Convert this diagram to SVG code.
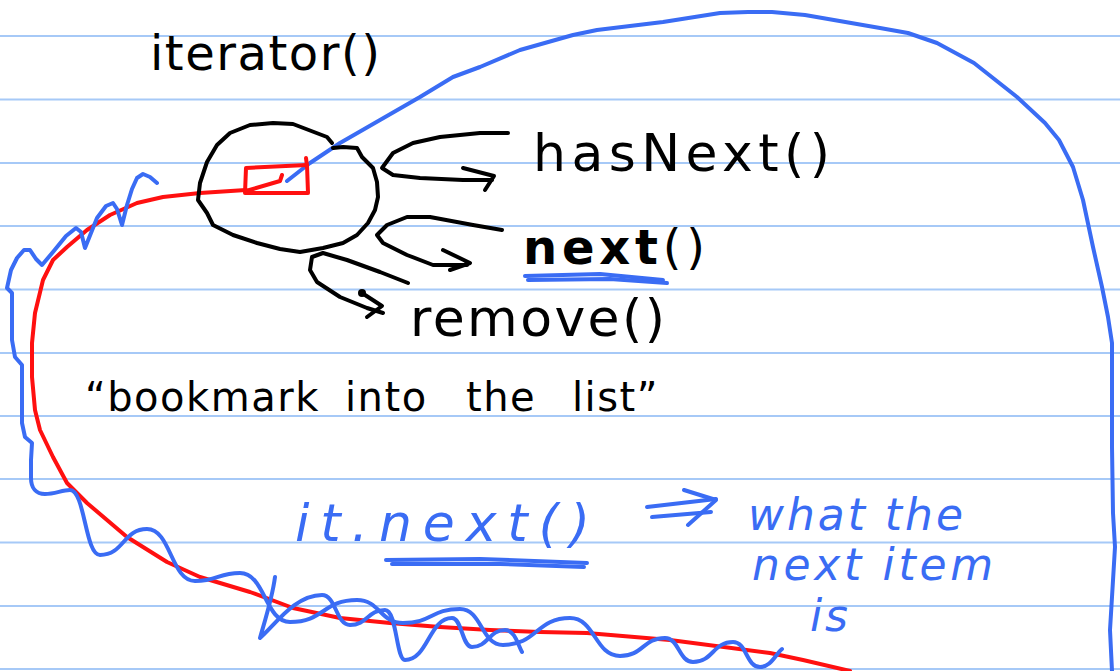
<svg xmlns="http://www.w3.org/2000/svg" width="1120" height="671" viewBox="0 0 1120 671">
  <style>
    .rule { stroke: #a6c9f7; stroke-width: 2; }
    .ink { fill: none; stroke-linecap: round; stroke-linejoin: round; }
    .black { stroke: #000; stroke-width: 4; }
    .blue { stroke: #3a6cf4; stroke-width: 4; }
    .red { stroke: #ff1010; stroke-width: 4; }
    .txt { font-family: "DejaVu Sans", "Liberation Sans", sans-serif; fill: #000; }
    .btxt { font-family: "DejaVu Sans", "Liberation Sans", sans-serif; fill: #3a6cf4; font-style: italic; }
  </style>

  <!-- ruled notebook paper -->
  <rect x="0" y="0" width="1120" height="671" fill="#fff"/>
  <g id="paper-lines">
    <line class="rule" x1="0" y1="36" x2="1120" y2="36"/>
    <line class="rule" x1="0" y1="99.5" x2="1120" y2="99.5"/>
    <line class="rule" x1="0" y1="163" x2="1120" y2="163"/>
    <line class="rule" x1="0" y1="226" x2="1120" y2="226"/>
    <line class="rule" x1="0" y1="289.5" x2="1120" y2="289.5"/>
    <line class="rule" x1="0" y1="353" x2="1120" y2="353"/>
    <line class="rule" x1="0" y1="416" x2="1120" y2="416"/>
    <line class="rule" x1="0" y1="479" x2="1120" y2="479"/>
    <line class="rule" x1="0" y1="542.5" x2="1120" y2="542.5"/>
    <line class="rule" x1="0" y1="606" x2="1120" y2="606"/>
    <line class="rule" x1="0" y1="669" x2="1120" y2="669"/>
  </g>

  <!-- list traced in red, running out of the bookmark -->
  <g id="list-curve">
    <path class="ink red" d="M246,190 L200,193 L163,197 L137,203 L110,215 L87,230 L67,247 L53,260 L43,280 L35,313 L32,343 L32,377 L35,410 L40,430 L53,457 L67,483 L87,503 L127,537 L167,562 L200,577 L250,592 L293,608 L340,618 L390,623 L440,627 L490,630 L540,632 L587,633 L670,640 L770,653 L803,660 L850,671"/>
  </g>

  <!-- wavy blue trace following the list -->
  <g id="wave-trace">
    <path class="ink blue" d="M157,183 L150,177 L143,174 L137,178 L132,189 L127,205 L122,225 L117,209 L113,203 L106,206 L97,218 L85,248 L81,232 L76,228 L66,236 L53,252 L42,265 L36,259 L30,250 L24,250 L17,258 L11,270 L7,288 L12,293 L12,340 L15,357 L22,365 L22,423 L25,437 L32,443 L31,460 L31,478 C31,488 36,494 45,494 C55,494 62,490 70,490 C85,490 85,555 100,555 C124,555 123,529 147,529 C171,529 171,581 195,581 C218,581 218,573 240,573 C265,573 265,622 290,622 C324,622 323,600 357,600 C380,600 380,623 403,623 C432,623 431,609 460,609 C482,609 481,645 503,645 C537,645 536,618 570,618 C595,618 595,656 620,656 C643,656 643,638 665,638 C679,638 679,662 693,662 C713,662 713,642 733,642 C747,642 746,667 760,667 C771,667 775,655 782,649"/>
    <path class="ink blue" d="M275,577 C272,600 262,630 260,638 C275,625 295,595 322,595 C336,595 336,625 350,625 C367,625 368,610 385,610 C397,610 396,660 405,660 C428,660 429,618 452,618 C462,618 462,647 472,647 C488,647 489,630 505,630 C515,630 518,645 522,652"/>
  </g>

  <!-- big blue loop from the bookmark around the page -->
  <g id="outer-loop">
    <path class="ink blue" d="M287,181 L310,163 L340,143 L380,120 L420,97 L453,77 L480,67 L520,50 L573,35 L597,30 L663,22 L720,13 L748,12 L772,12 L805,15 L880,28 L908,33 L937,43 L974,63 L1017,97 L1045,123 L1059,140 L1073,167 L1083,200 L1093,247 L1102,287 L1108,317 L1112,343 L1112,380 L1112,447 L1113,513 L1115,547 L1112,597 L1110,630 L1112,671"/>
  </g>

  <!-- iterator object -->
  <g id="iterator-node">
    <path class="ink black" d="M332,143 L327,137 L293,124 L273,123 L250,125 L230,133 L217,145 L207,162 L200,183 L198,200 L207,213 L213,225 L233,235 L257,243 L280,249 L300,252 L323,248 L343,243 L357,235 L368,223 L375,210 L378,197 L377,182 L373,168 L362,157 L357,148 L343,147 L333,148"/>
    <text class="txt" x="150" y="70" font-size="48" textLength="230" lengthAdjust="spacing">iterator()</text>
  </g>

  <!-- bookmark inside the iterator -->
  <g id="bookmark">
    <path class="ink red" d="M246,168 L307,165 L308,193 L245,193 Z"/>
    <path class="ink red" d="M246,191 L280,181 L282,175"/>
    <path class="ink red" d="M306,158 L307,166"/>
  </g>

  <!-- arrows from the iterator to its methods -->
  <g id="connectors">
    <path class="ink black" d="M508,133 L480,133 L440,137 L413,143 L393,153 L382,168 L393,175 L420,178 L463,180 L492,180"/>
    <path class="ink black" d="M463,168 L494,176 L485,190"/>
    <path class="ink black" d="M502,230 L473,225 L430,217 L407,217 L387,225 L377,235 L383,243 L407,255 L433,265 L467,265"/>
    <path class="ink black" d="M443,250 L470,263 L450,270"/>
    <path class="ink black" d="M408,283 L380,272 L347,260 L323,253 L312,257 L310,270 L317,282 L340,297 L367,308 L383,313"/>
    <path class="ink black" d="M362,293 L382,306 L367,317"/>
    <circle cx="362" cy="293" r="4" fill="#000"/>
    <!-- double arrow before the explanation -->
    <path class="ink blue" d="M647,507 L716,499"/>
    <path class="ink blue" d="M652,517 L711,512"/>
    <path class="ink blue" d="M684,490 L716,500 L688,525"/>
  </g>

  <g id="method-hasnext">
    <text class="txt" x="533" y="171" font-size="52" textLength="297" lengthAdjust="spacing">hasNext()</text>
  </g>

  <g id="method-next">
    <text class="txt" x="523" y="264" font-size="48" textLength="182" lengthAdjust="spacing"><tspan font-weight="bold">next</tspan>()</text>
    <path class="ink blue" stroke-width="5" d="M525,276 L600,274 L663,280"/>
    <path class="ink blue" stroke-width="3" d="M528,280 L610,279 L667,283"/>
  </g>

  <g id="method-remove">
    <text class="txt" x="410" y="336" font-size="52" textLength="255" lengthAdjust="spacing">remove()</text>
  </g>

  <g id="caption">
    <text class="txt" font-size="40" y="411" letter-spacing="1.5"><tspan x="85">“bookmark</tspan> <tspan x="345">into</tspan> <tspan x="466">the</tspan> <tspan x="572">list”</tspan></text>
  </g>

  <g id="call-it-next">
    <text class="btxt" x="295" y="541" font-size="52" textLength="295" lengthAdjust="spacing">it.next()</text>
    <path class="ink blue" stroke-width="5" d="M386,560 L480,559 L587,563"/>
    <path class="ink blue" stroke-width="3" d="M392,564 L500,564 L584,567"/>
  </g>

  <g id="explanation">
    <text class="btxt" x="748" y="530" font-size="44" textLength="215" lengthAdjust="spacing">what the</text>
    <text class="btxt" x="752" y="580" font-size="44" textLength="241" lengthAdjust="spacing">next item</text>
    <text class="btxt" x="810" y="631" font-size="44" textLength="38" lengthAdjust="spacing">is</text>
  </g>
</svg>
